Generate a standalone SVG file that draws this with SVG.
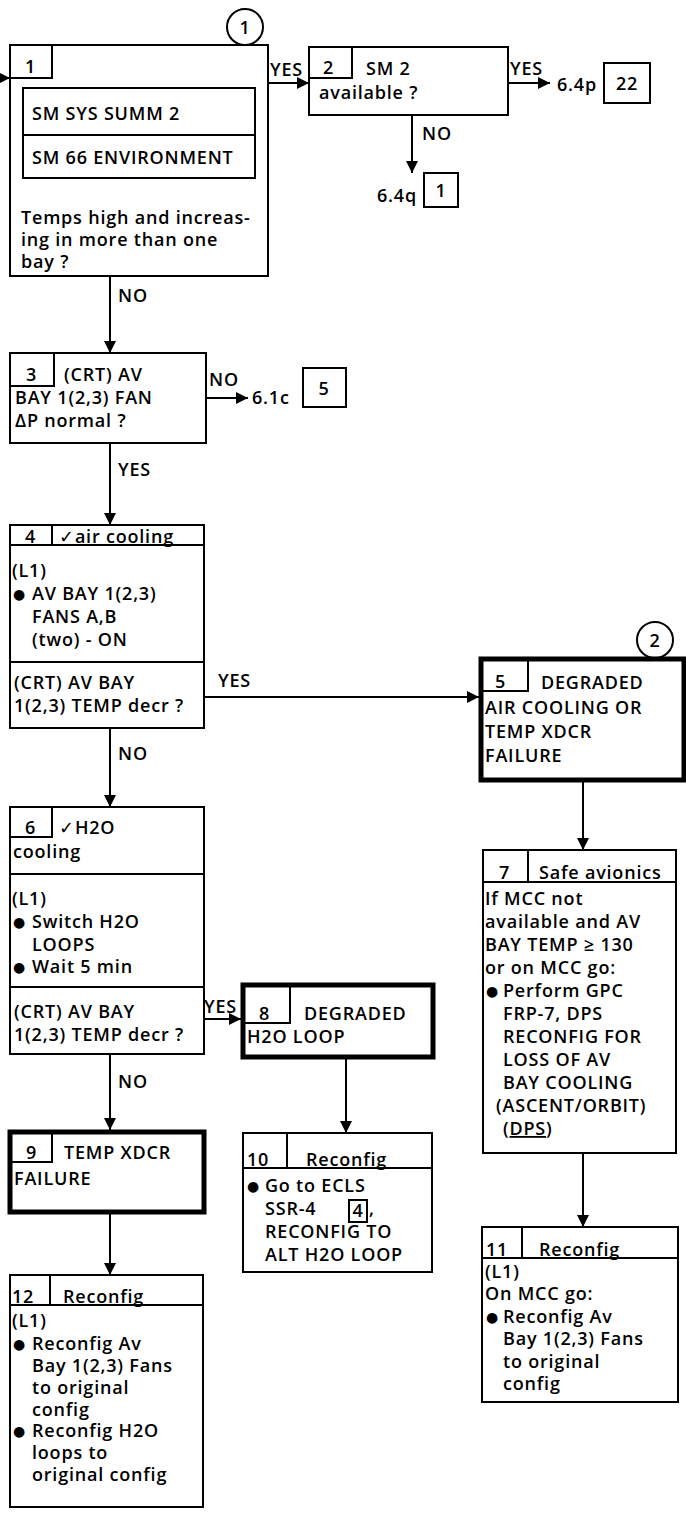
<svg xmlns="http://www.w3.org/2000/svg" width="686" height="1514" viewBox="0 0 686 1514">
<style>
text{font-family:"Open Sans","Liberation Sans","DejaVu Sans",sans-serif;font-size:18px;font-weight:600;letter-spacing:0.8px;fill:#000}
text.u{font-family:"DejaVu Sans",sans-serif;font-size:14px;letter-spacing:0}
.b{fill:#fff;stroke:#000;stroke-width:2}
.k{fill:#fff;stroke:#000;stroke-width:5}
.l{fill:none;stroke:#000;stroke-width:2}
.c{fill:none;stroke:#000;stroke-width:2;marker-end:url(#a)}
.m{text-anchor:middle}
</style>
<defs>
<marker id="a" markerUnits="userSpaceOnUse" markerWidth="13" markerHeight="13" refX="12" refY="6" orient="auto"><path d="M0,0 L12,6 L0,12 z" fill="#000"/></marker>
</defs>
<rect width="686" height="1514" fill="#fff"/>
<g id="connectors">
<path class="c" d="M-4,78 H10"/>
<path class="c" d="M268,83 H309"/>
<path class="c" d="M508,83 H550"/>
<path class="c" d="M412,115 V173"/>
<path class="c" d="M110,276 V353"/>
<path class="c" d="M206,398 H248"/>
<path class="c" d="M110,443 V525"/>
<path class="c" d="M204,697 H479"/>
<path class="c" d="M110,728 V807"/>
<path class="c" d="M583,782 V850"/>
<path class="c" d="M204,1019 H241"/>
<path class="c" d="M110,1054 V1130"/>
<path class="c" d="M346,1059 V1133"/>
<path class="c" d="M583,1153 V1227"/>
<path class="c" d="M110,1214 V1275"/>
<text x="270" y="76">YES</text>
<text x="510" y="75">YES</text>
<text x="422" y="140">NO</text>
<text x="118" y="302">NO</text>
<text x="209" y="386">NO</text>
<text x="118" y="476">YES</text>
<text x="218" y="687">YES</text>
<text x="118" y="760">NO</text>
<text x="204" y="1013">YES</text>
<text x="118" y="1088">NO</text>
</g>
<g id="c1"><circle cx="245" cy="27" r="18" class="b"/><text x="245" y="34" class="m">1</text></g>
<g id="c2"><circle cx="655" cy="640" r="18" class="b"/><text x="655" y="647" class="m">2</text></g>
<g id="n1">
<rect x="10" y="45" width="258" height="231" class="b"/>
<path class="l" d="M10,78 H52 V45"/>
<text x="25" y="73">1</text>
<rect x="23" y="88" width="232" height="47" class="b"/>
<rect x="23" y="135" width="232" height="43" class="b"/>
<text x="32" y="120">SM SYS SUMM 2</text>
<text x="32" y="164">SM 66 ENVIRONMENT</text>
<text x="21" y="224">Temps high and increas-</text>
<text x="21" y="246">ing in more than one</text>
<text x="21" y="268">bay ?</text>
</g>
<g id="n2">
<rect x="309" y="47" width="199" height="68" class="b"/>
<path class="l" d="M309,78 H352 V47"/>
<text x="323" y="74">2</text>
<text x="366" y="75">SM 2</text>
<text x="319" y="99">available ?</text>
</g>
<g id="r22"><text x="557" y="91">6.4p</text><rect x="604" y="63" width="46" height="40" class="b"/><text x="627" y="90" class="m">22</text></g>
<g id="r1"><text x="377" y="202">6.4q</text><rect x="424" y="173" width="34" height="34" class="b"/><text x="441" y="197" class="m">1</text></g>
<g id="n3">
<rect x="10" y="353" width="196" height="90" class="b"/>
<path class="l" d="M10,386 H54 V353"/>
<text x="26" y="381">3</text>
<text x="64" y="381">(CRT) AV</text>
<text x="15" y="404">BAY 1(2,3) FAN</text>
<text x="15" y="427">ΔP normal ?</text>
</g>
<g id="r5"><text x="252" y="404">6.1c</text><rect x="303" y="368" width="43" height="39" class="b"/><text x="324" y="395" class="m">5</text></g>
<g id="n4">
<rect x="10" y="525" width="194" height="203" class="b"/>
<path class="l" d="M10,545 H204 M52,525 V545 M10,662 H204"/>
<text x="25" y="543">4</text>
<text x="59" y="543">✓air cooling</text>
<text x="12" y="577">(L1)</text>
<text class="u" x="13" y="599">●</text>
<text x="32" y="600">AV BAY 1(2,3)</text>
<text x="32" y="623">FANS A,B</text>
<text x="32" y="646">(two) - ON</text>
<text x="14" y="689">(CRT) AV BAY</text>
<text x="14" y="712">1(2,3) TEMP decr ?</text>
</g>
<g id="n5">
<rect x="481" y="659" width="203" height="121" class="k"/>
<path class="l" d="M483,691 H528 V661"/>
<text x="495" y="688">5</text>
<text x="541" y="689">DEGRADED</text>
<text x="485" y="714">AIR COOLING OR</text>
<text x="485" y="738">TEMP XDCR</text>
<text x="485" y="762">FAILURE</text>
</g>
<g id="n6">
<rect x="10" y="807" width="194" height="247" class="b"/>
<path class="l" d="M10,837 H52 V807 M10,874 H204 M10,987 H204"/>
<text x="25" y="834">6</text>
<text x="59" y="834">✓H2O</text>
<text x="13" y="858">cooling</text>
<text x="12" y="905">(L1)</text>
<text class="u" x="13" y="927">●</text>
<text x="32" y="928">Switch H2O</text>
<text x="32" y="951">LOOPS</text>
<text class="u" x="13" y="972">●</text>
<text x="32" y="973">Wait 5 min</text>
<text x="14" y="1018">(CRT) AV BAY</text>
<text x="14" y="1041">1(2,3) TEMP decr ?</text>
</g>
<g id="n7">
<rect x="483" y="850" width="193" height="303" class="b"/>
<path class="l" d="M483,882 H676 M528,850 V882"/>
<text x="499" y="879">7</text>
<text x="539" y="879">Safe avionics</text>
<text x="485" y="905">If MCC not</text>
<text x="485" y="928">available and AV</text>
<text x="485" y="951">BAY TEMP ≥ 130</text>
<text x="485" y="974">or on MCC go:</text>
<text class="u" x="486" y="996">●</text>
<text x="503" y="997">Perform GPC</text>
<text x="503" y="1020">FRP-7, DPS</text>
<text x="503" y="1043">RECONFIG FOR</text>
<text x="503" y="1066">LOSS OF AV</text>
<text x="503" y="1089">BAY COOLING</text>
<text x="496" y="1112">(ASCENT/ORBIT)</text>
<text x="503" y="1135">(<tspan text-decoration="underline">DPS</tspan>)</text>
</g>
<g id="n8">
<rect x="243" y="985" width="190" height="72" class="k"/>
<path class="l" d="M245,1023 H290 V987"/>
<text x="259" y="1020">8</text>
<text x="304" y="1020">DEGRADED</text>
<text x="247" y="1043">H2O LOOP</text>
</g>
<g id="n9">
<rect x="10" y="1132" width="194" height="80" class="k"/>
<path class="l" d="M12,1162 H52 V1134"/>
<text x="26" y="1159">9</text>
<text x="64" y="1159">TEMP XDCR</text>
<text x="14" y="1185">FAILURE</text>
</g>
<g id="n10">
<rect x="243" y="1133" width="189" height="139" class="b"/>
<path class="l" d="M243,1168 H432 M287,1133 V1168"/>
<text x="247" y="1166">10</text>
<text x="306" y="1166">Reconfig</text>
<text class="u" x="247" y="1191">●</text>
<text x="265" y="1192">Go to ECLS</text>
<text x="265" y="1215">SSR-4</text>
<rect x="349" y="1200" width="18" height="22" class="b"/>
<text x="358" y="1217" class="m">4</text>
<text x="369" y="1215">,</text>
<text x="265" y="1238">RECONFIG TO</text>
<text x="265" y="1261">ALT H2O LOOP</text>
</g>
<g id="n11">
<rect x="482" y="1227" width="196" height="175" class="b"/>
<path class="l" d="M482,1258 H678 M522,1227 V1258"/>
<text x="486" y="1256">11</text>
<text x="539" y="1256">Reconfig</text>
<text x="485" y="1278">(L1)</text>
<text x="485" y="1300">On MCC go:</text>
<text class="u" x="486" y="1322">●</text>
<text x="503" y="1323">Reconfig Av</text>
<text x="503" y="1345">Bay 1(2,3) Fans</text>
<text x="503" y="1368">to original</text>
<text x="503" y="1390">config</text>
</g>
<g id="n12">
<rect x="10" y="1275" width="193" height="232" class="b"/>
<path class="l" d="M10,1305 H203 M50,1275 V1305"/>
<text x="12" y="1303">12</text>
<text x="63" y="1303">Reconfig</text>
<text x="12" y="1327">(L1)</text>
<text class="u" x="13" y="1349">●</text>
<text x="32" y="1350">Reconfig Av</text>
<text x="32" y="1372">Bay 1(2,3) Fans</text>
<text x="32" y="1394">to original</text>
<text x="32" y="1416">config</text>
<text class="u" x="13" y="1436">●</text>
<text x="32" y="1437">Reconfig H2O</text>
<text x="32" y="1459">loops to</text>
<text x="32" y="1481">original config</text>
</g>
</svg>
